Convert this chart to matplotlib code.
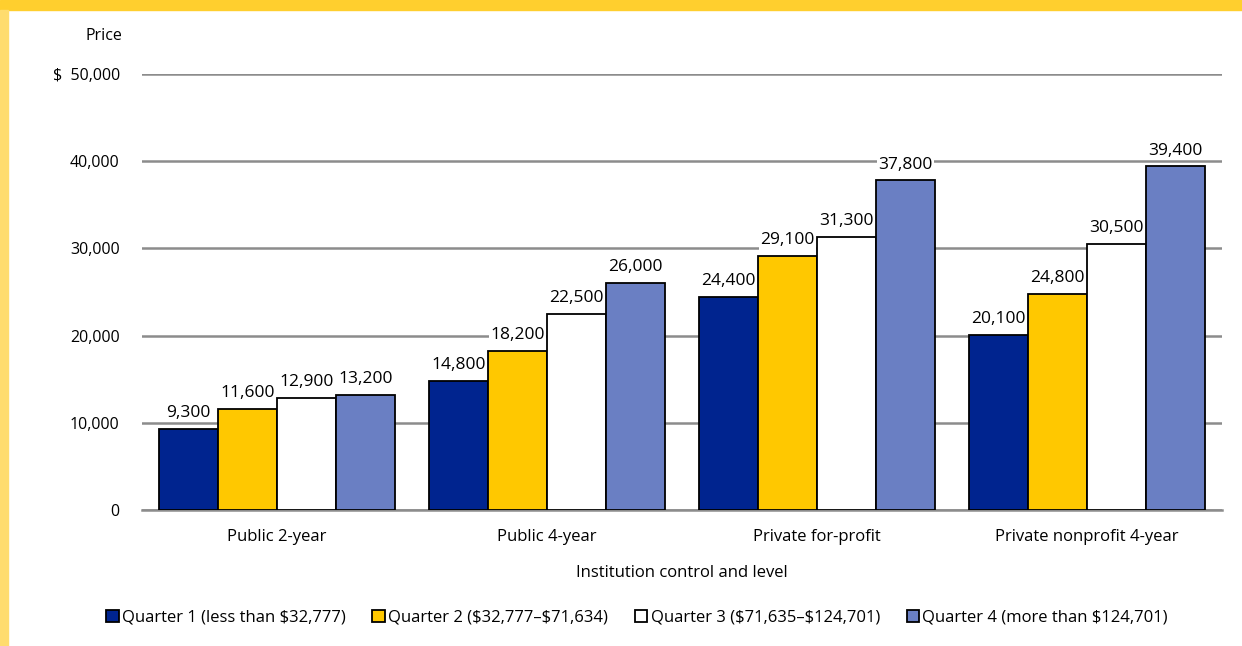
import numpy as np
import matplotlib.pyplot as plt
import matplotlib as mpl
from matplotlib.patches import Rectangle, Patch

mpl.rcParams['font.family'] = ['Open Sans', 'DejaVu Sans']
mpl.rcParams['font.size'] = 11.5
mpl.rcParams['text.parse_math'] = False

categories = ['Public 2-year', 'Public 4-year', 'Private for-profit',
              'Private nonprofit 4-year']
quarters = ['Quarter 1 (less than $32,777)', 'Quarter 2 ($32,777\u2013$71,634)',
            'Quarter 3 ($71,635\u2013$124,701)', 'Quarter 4 (more than $124,701)']
q1 = [9300, 14800, 24400, 20100]
q2 = [11600, 18200, 29100, 24800]
q3 = [12900, 22500, 31300, 30500]
q4 = [13200, 26000, 37800, 39400]
colors = ['#00248f', '#ffc800', '#ffffff', '#6a7fc3']

fig = plt.figure(figsize=(12.42, 6.46), dpi=100)
# yellow frame
fig.patches.append(Rectangle((0, 1 - 10 / 646), 1, 10 / 646, transform=fig.transFigure,
                             color='#ffcf2e', zorder=0))
fig.patches.append(Rectangle((0, 0), 8 / 1242, 1 - 10 / 646, transform=fig.transFigure,
                             color='#ffdc6e', zorder=0))

ax = fig.add_axes([142 / 1242, 1 - 510 / 646, 1080 / 1242, 436 / 646])
x = np.arange(len(categories))
w = 0.2185
for i, vals in enumerate([q1, q2, q3, q4]):
    pos = x + (i - 1.5) * w
    ax.bar(pos, vals, w, color=colors[i], edgecolor='black', linewidth=1.3, zorder=3)
    for px, v in zip(pos, vals):
        ax.text(px, v + 900, '{:,}'.format(v), ha='center', va='bottom', zorder=4,
                fontsize=12.5,
                bbox=dict(facecolor='white', edgecolor='none', pad=1))

ax.set_xlim(-0.5, 3.5)
ax.set_ylim(0, 50000)
ax.set_yticks(np.arange(0, 50001, 10000))
ax.set_yticklabels(['0', '10,000', '20,000', '30,000', '40,000', '$  50,000'])
ax.yaxis.grid(True, color='#8c8c8c', linewidth=1.8, zorder=0)
ax.set_axisbelow(True)
for loc in ['top', 'right', 'left']:
    ax.spines[loc].set_visible(False)
ax.spines['bottom'].set_color('#8c8c8c')
ax.spines['bottom'].set_linewidth(1.8)
ax.tick_params('both', length=0)
ax.tick_params('y', pad=16)
ax.tick_params('x', pad=14, labelsize=12)
ax.set_xticks(x)
ax.set_xticklabels(categories)
ax.set_xlabel('Institution control and level', labelpad=14, fontsize=12)
fig.text(122 / 1242, 1 - 36 / 646, 'Price', ha='right', va='center')

handles = [Patch(facecolor=c, edgecolor='black', linewidth=1.3) for c in colors]
fig.legend(handles, quarters, loc='center', bbox_to_anchor=(637 / 1242, 1 - 618 / 646),
           ncol=4, frameon=False, handlelength=0.75, handleheight=0.75,
           handletextpad=0.2, columnspacing=1.6, fontsize=12)

plt.savefig('out.png', dpi=100)
